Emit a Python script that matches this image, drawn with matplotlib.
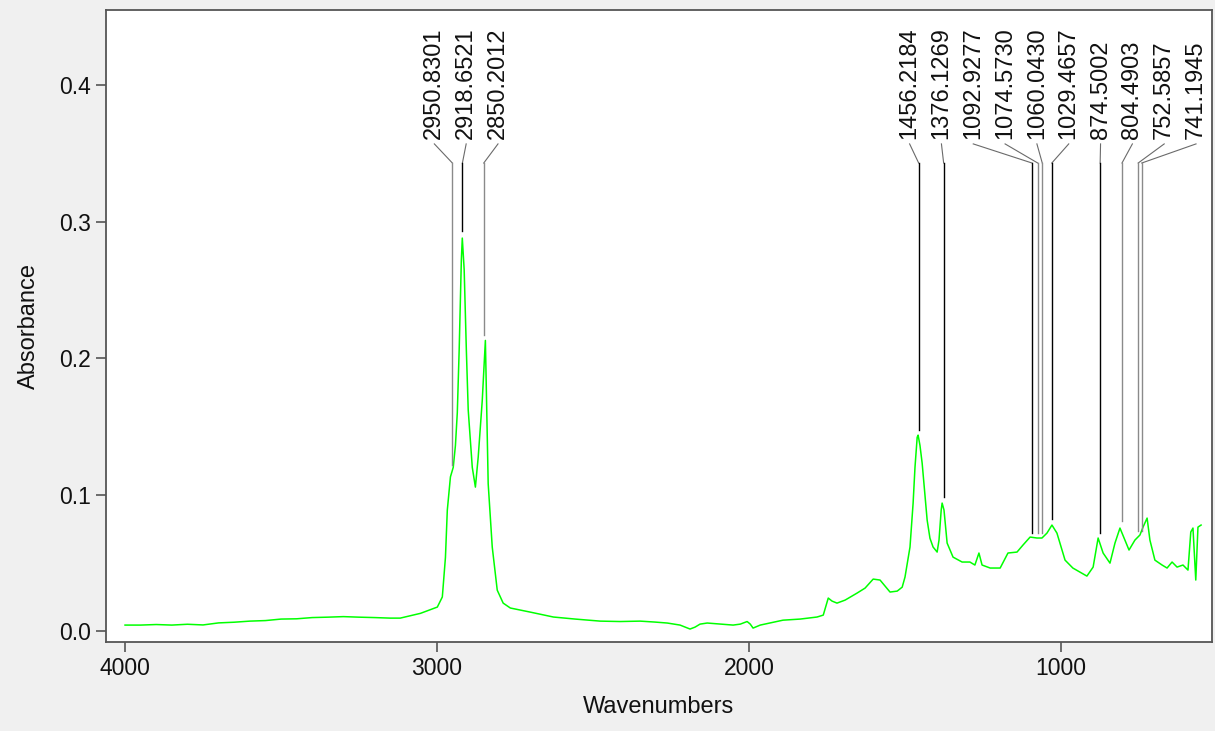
import matplotlib
matplotlib.use("Agg")
import matplotlib.pyplot as plt
import numpy as np

# ---------------- data ----------------
wavenumber = [4000, 3950, 3900, 3850, 3800, 3750, 3700, 3650, 3600, 3550, 3500, 3450,
              3400, 3350, 3300, 3250, 3200, 3150, 3118, 3053, 2999, 2983, 2973, 2967,
              2957, 2948, 2941, 2935, 2929, 2922, 2919, 2913, 2906, 2900, 2887, 2877,
              2868, 2855, 2845, 2839, 2836, 2823, 2807, 2788, 2765, 2701, 2627, 2557,
              2477, 2413, 2349, 2301, 2262, 2221, 2189, 2173, 2157, 2134, 2092, 2051,
              2028, 2006, 1996, 1987, 1964, 1891, 1836, 1782, 1762, 1746, 1734, 1718,
              1692, 1654, 1628, 1602, 1580, 1564, 1548, 1525, 1509, 1500, 1484, 1474,
              1468, 1461, 1458, 1452, 1445, 1436, 1429, 1420, 1410, 1397, 1391, 1384,
              1381, 1375, 1365, 1346, 1317, 1292, 1276, 1263, 1253, 1227, 1195, 1170,
              1141, 1122, 1099, 1077, 1061, 1045, 1029, 1013, 987, 962, 917, 897, 881,
              865, 843, 827, 811, 795, 782, 763, 747, 737, 724, 715, 699, 676, 660, 644,
              628, 609, 593, 584, 577, 568, 561, 551]
absorbance = [0.0044, 0.0044, 0.0048, 0.0044, 0.0050, 0.0045, 0.0060, 0.0065, 0.0073,
              0.0077, 0.0088, 0.0090, 0.0099, 0.0102, 0.0106, 0.0102, 0.0099, 0.0095,
              0.0095, 0.0130, 0.0176, 0.0250, 0.0540, 0.0887, 0.1130, 0.1200, 0.1360,
              0.1600, 0.2060, 0.2720, 0.2880, 0.2650, 0.2060, 0.1620, 0.1200, 0.1055,
              0.1275, 0.1690, 0.2130, 0.1450, 0.1080, 0.0616, 0.0300, 0.0205, 0.0169,
              0.0139, 0.0103, 0.0088, 0.0073, 0.0070, 0.0073, 0.0066, 0.0059, 0.0044,
              0.0015, 0.0029, 0.0051, 0.0059, 0.0051, 0.0044, 0.0051, 0.0070, 0.0051,
              0.0022, 0.0044, 0.0080, 0.0088, 0.0103, 0.0117, 0.0242, 0.0220, 0.0205,
              0.0227, 0.0278, 0.0315, 0.0381, 0.0374, 0.0330, 0.0286, 0.0293, 0.0322,
              0.0396, 0.0616, 0.0938, 0.1200, 0.1420, 0.1436, 0.1360, 0.1230, 0.0997,
              0.0813, 0.0680, 0.0616, 0.0579, 0.0667, 0.0887, 0.0938, 0.0887, 0.0645,
              0.0542, 0.0506, 0.0506, 0.0484, 0.0572, 0.0484, 0.0462, 0.0462, 0.0572,
              0.0579, 0.0630, 0.0689, 0.0682, 0.0682, 0.0718, 0.0777, 0.0718, 0.0520,
              0.0462, 0.0403, 0.0469, 0.0682, 0.0572, 0.0498, 0.0645, 0.0755, 0.0667,
              0.0594, 0.0667, 0.0704, 0.0762, 0.0828, 0.0667, 0.0520, 0.0484, 0.0462,
              0.0506, 0.0469, 0.0484, 0.0447, 0.0726, 0.0755, 0.0374, 0.0762, 0.0777]

peak_positions = [2950.8301, 2918.6521, 2850.2012, 1456.2184, 1376.1269, 1092.9277,
                  1074.5730, 1060.0430, 1029.4657, 874.5002, 804.4903, 752.5857, 741.1945]
peak_heights = [0.119, 0.290, 0.214, 0.144, 0.095, 0.069, 0.069, 0.069, 0.079,
                0.069, 0.078, 0.070, 0.070]
peak_labels = ["2950.8301", "2918.6521", "2850.2012", "1456.2184", "1376.1269",
               "1092.9277", "1074.5730", "1060.0430", "1029.4657", "874.5002",
               "804.4903", "752.5857", "741.1945"]

x_ticks = [4000, 3000, 2000, 1000]
y_ticks = [0.0, 0.1, 0.2, 0.3, 0.4]

# ---------------- style ----------------
line_colors = ["#8a8a8a", "#000000", "#8a8a8a", "#000000", "#000000", "#000000",
               "#8a8a8a", "#8a8a8a", "#000000", "#000000", "#8a8a8a", "#8a8a8a", "#8a8a8a"]
FONT = ["Liberation Sans", "DejaVu Sans"]
plt.rcParams["font.family"] = FONT

fig = plt.figure(figsize=(12.15, 7.31), dpi=100, facecolor="#f0f0f0")
ax = fig.add_axes([106 / 1215, 1 - 642 / 731, (1212 - 106) / 1215, (642 - 9.5) / 731])
ax.set_facecolor("white")

ax.plot(wavenumber, absorbance, color="#00ff00", lw=1.1, zorder=3)

ax.set_xlim(4061, 516)
ax.set_ylim(-0.008, 0.4555)
ax.set_xticks(x_ticks)
ax.set_yticks(y_ticks)
ax.set_yticklabels([f"{v:.1f}" for v in y_ticks])

for s in ["top", "bottom", "left", "right"]:
    ax.spines[s].set_color("#555555")
    ax.spines[s].set_linewidth(1.3)
ax.tick_params(axis="both", direction="out", length=7, width=1.2, color="#555555",
               labelsize=16.5, labelcolor="#111111", pad=4)
ax.tick_params(top=False, right=False)

ax.set_xlabel("Wavenumbers", fontsize=17, color="#111111")
ax.set_ylabel("Absorbance", fontsize=17, color="#111111")
ax.xaxis.set_label_coords(0.5, -0.085)
ax.yaxis.set_label_coords(-0.06, 0.5)

# ---------------- peak labels: spread labels with minimum spacing (PAV) ----------------
order = np.argsort(peak_positions)[::-1]
p_sorted = np.array(peak_positions)[order]
spacing = 102.0
q = p_sorted + np.arange(len(p_sorted)) * spacing
blocks = []  # each block: [sum, count]
for v in q:
    blocks.append([v, 1])
    while len(blocks) > 1 and blocks[-2][0] / blocks[-2][1] < blocks[-1][0] / blocks[-1][1]:
        s, c = blocks.pop()
        blocks[-1][0] += s
        blocks[-1][1] += c
m = []
for s, c in blocks:
    m += [s / c] * c
label_x_sorted = np.array(m) - np.arange(len(p_sorted)) * spacing
label_x = np.empty(len(p_sorted))
label_x[order] = label_x_sorted

text_y = 0.3606
lead_top = 0.357
lead_bot = 0.343
gap = 0.003
for i, (px, h, lab) in enumerate(zip(peak_positions, peak_heights, peak_labels)):
    lx = label_x[i]
    ax.text(lx, text_y, lab, rotation=90, ha="center", va="bottom", fontsize=17,
            color="#111111", zorder=5)
    ax.plot([lx, px], [lead_top, lead_bot], color="#6a6a6a", lw=0.8, zorder=4)
    ax.plot([px, px], [lead_bot, h + gap], color=line_colors[i], lw=1.0, zorder=4)

fig.savefig("out.png", dpi=100, facecolor=fig.get_facecolor())
